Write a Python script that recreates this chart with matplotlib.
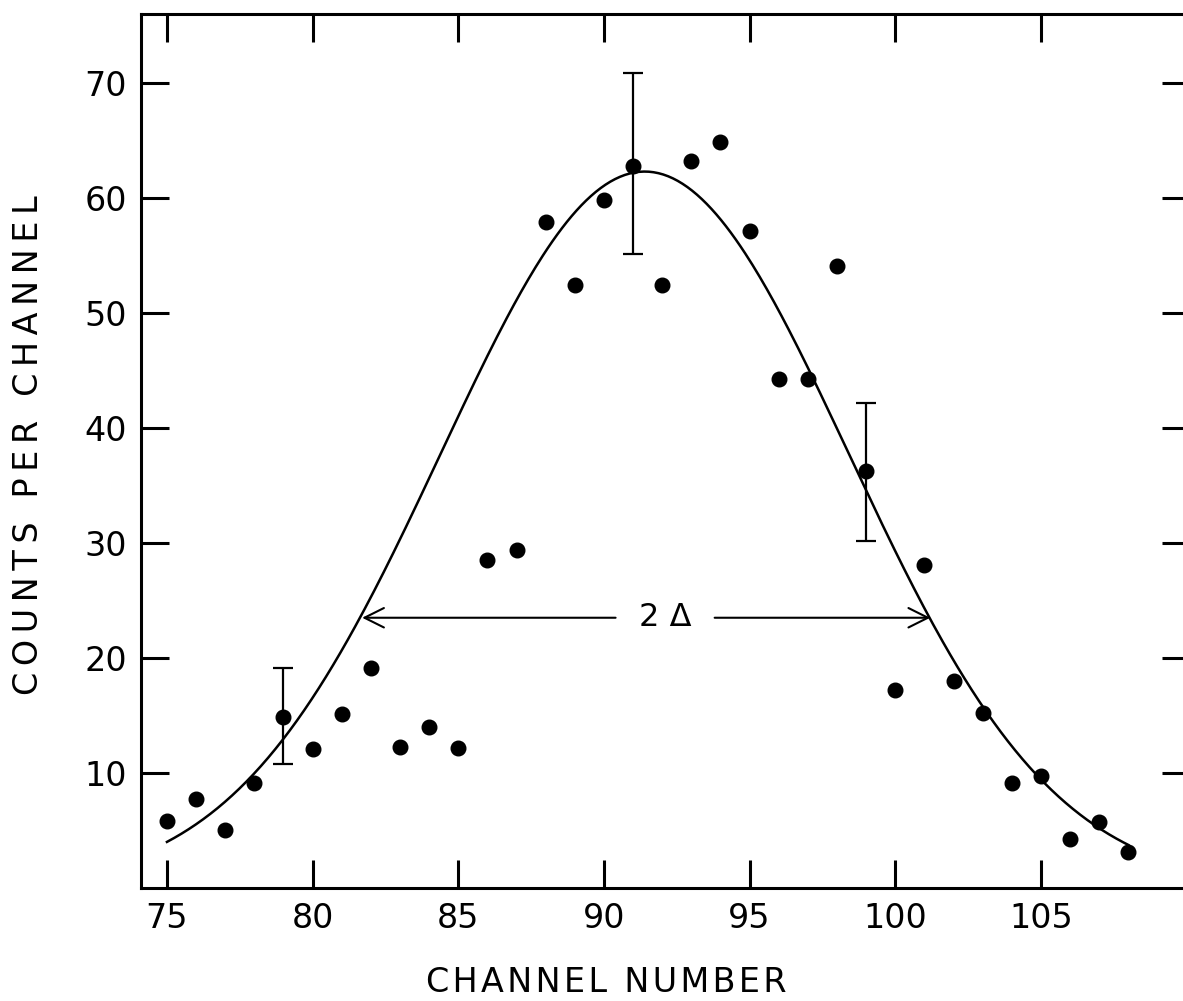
import numpy as np
import matplotlib
matplotlib.use("Agg")
import matplotlib.pyplot as plt

# measured counts per channel
channels = list(range(75, 109))
counts = [5.8, 7.7, 5.0, 9.1, 14.9, 12.1, 15.1, 19.1, 12.3, 14.0, 12.2,
          28.5, 29.4, 57.9, 52.4, 59.8, 62.8, 52.4, 63.2, 64.9, 57.1,
          44.3, 44.3, 54.1, 36.3, 17.2, 28.1, 18.0, 15.2, 9.1, 9.7,
          4.3, 5.7, 3.1]

# error bars (channel, top, bottom)
err_channels = [79, 91, 99]
err_top = [19.1, 70.9, 42.2]
err_bottom = [10.8, 55.1, 30.2]

# gaussian fit: peak height, centre, half width (Delta)
fit_peak = 62.3
fit_centre = 91.4
fit_delta = 9.9
fit_range = (75, 108)

# 2 Delta marker
width_left = 81.7
width_right = 101.2
width_level = 23.5


def spaced(text, sep):
    # widen letter spacing like the lettering on the original drawing
    return sep.join(text)


plt.rcParams['font.family'] = ['DejaVu Sans']

fig = plt.figure(figsize=(11.83, 10.01), dpi=100)
ax = fig.add_axes([0.1192, 0.1129, 0.8868, 0.8731])

xs = np.linspace(fit_range[0], fit_range[1], 400)
ax.plot(xs, fit_peak * np.exp(-((xs - fit_centre) / fit_delta) ** 2),
        color='black', lw=1.8)

ax.plot(channels, counts, 'o', color='black', ms=10.5)

for c, top, bot in zip(err_channels, err_top, err_bottom):
    val = counts[channels.index(c)]
    ax.errorbar([c], [val], yerr=[[val - bot], [top - val]], fmt='none',
                ecolor='black', elinewidth=1.6, capsize=7, capthick=1.6)

# 2 Delta arrows
gap_left, gap_right, label_x = 90.4, 93.8, 92.1
ax.annotate('', xy=(width_left, width_level), xytext=(gap_left, width_level),
            arrowprops=dict(arrowstyle='->', color='black', lw=1.5,
                            mutation_scale=35, shrinkA=0, shrinkB=0))
ax.annotate('', xy=(width_right, width_level), xytext=(gap_right, width_level),
            arrowprops=dict(arrowstyle='->', color='black', lw=1.5,
                            mutation_scale=35, shrinkA=0, shrinkB=0))
ax.text(label_x, width_level, '2 \u0394', ha='center', va='center', fontsize=23)

ax.set_xlim(74.11, 110.12)
ax.set_ylim(0, 76)
ax.set_xticks([75, 80, 85, 90, 95, 100, 105])
ax.set_yticks([10, 20, 30, 40, 50, 60, 70])
ax.tick_params(direction='in', length=20, width=2.2, labelsize=24,
               top=True, right=True, pad=10)
for s in ax.spines.values():
    s.set_linewidth(2.2)

fig.text(606 / 1183, 1 - 992 / 1001, spaced('CHANNEL NUMBER', '\u200a'),
         ha='center', va='baseline', fontsize=24)
fig.text(38 / 1183, 1 - 445 / 1001, spaced('COUNTS PER CHANNEL', '\u2009'),
         ha='center', va='baseline', rotation=90, rotation_mode='anchor',
         fontsize=24)

fig.savefig('out.png', dpi=100)
